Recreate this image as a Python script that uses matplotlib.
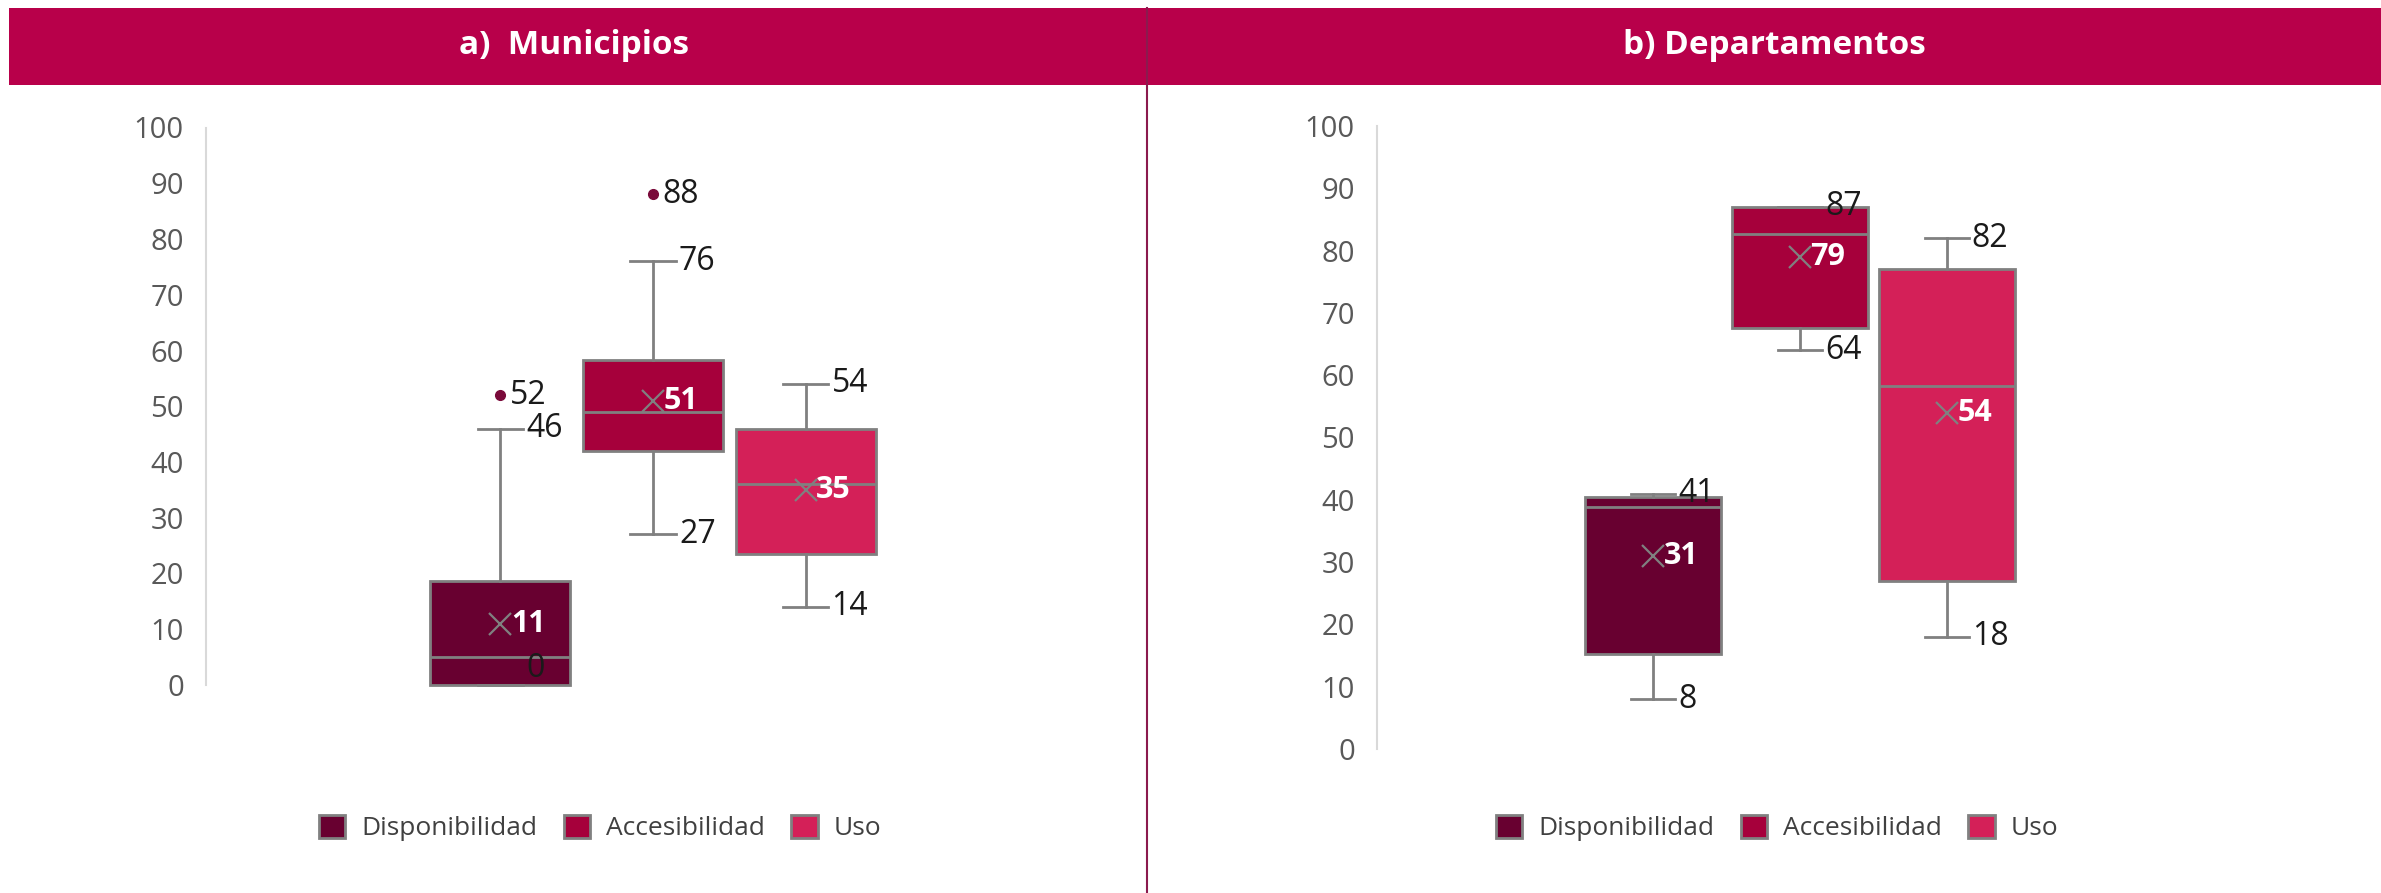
import matplotlib.pyplot as plt
from matplotlib.patches import Patch, Rectangle
from matplotlib.lines import Line2D

# === DATOS ===
series = ["Disponibilidad", "Accesibilidad", "Uso"]
colores = ["#680030", "#A6003B", "#D42058"]

# a) Municipios
mun_q1 = [0, 42, 23.5]
mun_med = [5, 49, 36]
mun_q3 = [18.7, 58.3, 46]
mun_min = [0, 27, 14]
mun_max = [46, 76, 54]
mun_media = [11, 51, 35]
mun_atipicos = [[52], [88], []]

# b) Departamentos
dep_q1 = [15.3, 67.6, 27]
dep_med = [38.8, 82.6, 58.2]
dep_q3 = [40.5, 87, 77]
dep_min = [8, 64, 18]
dep_max = [41, 87, 82]
dep_media = [31, 79, 54]
dep_atipicos = [[], [], []]

plt.rcParams["font.family"] = ["Open Sans", "DejaVu Sans"]

GRIS = "#808080"
FONDO_TITULO = "#B8004A"

fig = plt.figure(figsize=(23.81, 8.93), dpi=100)


def panel(rect, q1, med, q3, lo, hi, media, atip, xlim, ancho, cap):
    ax = fig.add_axes(rect)
    stats = []
    for i in range(3):
        stats.append({"q1": q1[i], "med": med[i], "q3": q3[i], "whislo": lo[i],
                      "whishi": hi[i], "mean": media[i], "fliers": atip[i]})
    pos = [-1, 0, 1]
    bp = ax.bxp(stats, positions=pos, widths=ancho, patch_artist=True, showmeans=True,
                capwidths=cap,
                boxprops=dict(edgecolor=GRIS, linewidth=2),
                medianprops=dict(color=GRIS, linewidth=2),
                whiskerprops=dict(color=GRIS, linewidth=2),
                capprops=dict(color=GRIS, linewidth=2),
                meanprops=dict(marker="x", markeredgecolor=GRIS, markersize=16, markeredgewidth=1.6),
                flierprops=dict(marker="o", markerfacecolor="#7A0A3A", markeredgecolor="#7A0A3A",
                                markersize=7))
    for caja, c in zip(bp["boxes"], colores):
        caja.set_facecolor(c)
        caja.set_clip_on(False)
    for linea in bp["medians"] + bp["caps"] + bp["whiskers"]:
        linea.set_clip_on(False)

    for i, x in enumerate(pos):
        xe = x + cap / 2 + 0.02
        for v in (lo[i], hi[i]):
            ax.text(xe, v, f"{v:g}", ha="left", va="bottom" if v == 0 else "center",
                    fontsize=23, color="#1a1a1a", zorder=5)
        for v in atip[i]:
            ax.text(x + 0.06, v, f"{v:g}", ha="left", va="center",
                    fontsize=23, color="#1a1a1a", zorder=5)
        ax.text(x + 0.07, media[i], f"{media[i]:g}", ha="left", va="center",
                fontsize=22, fontweight="bold", color="white", zorder=5)

    ax.set_ylim(0, 100)
    ax.set_xlim(*xlim)
    ax.set_yticks(range(0, 101, 10))
    ax.set_xticks([])
    ax.tick_params(axis="y", length=0, pad=16, labelsize=21, labelcolor="#595959")
    for s in ["top", "right", "bottom"]:
        ax.spines[s].set_visible(False)
    ax.spines["left"].set_color("#D9D9D9")
    ax.spines["left"].set_linewidth(1.5)
    return ax


panel([206 / 2381, 1 - 685 / 893, 894 / 2381, 557.5 / 893],
      mun_q1, mun_med, mun_q3, mun_min, mun_max, mun_media, mun_atipicos,
      (-2.93, 2.93), 0.918, 0.3)
panel([1377 / 2381, 1 - 749 / 893, 846 / 2381, 623 / 893],
      dep_q1, dep_med, dep_q3, dep_min, dep_max, dep_media, dep_atipicos,
      (-2.88, 2.88), 0.93, 0.3)

# barras de titulo
fig.patches.append(Rectangle((9 / 2381, 1 - 85 / 893), 1 - 9 / 2381, 77 / 893,
                             transform=fig.transFigure, facecolor=FONDO_TITULO,
                             edgecolor="none", zorder=0))
fig.text(574 / 2381, 1 - 46 / 893, "a)  Municipios", ha="center", va="center",
         fontsize=24, fontweight="bold", color="white")
fig.text(1774 / 2381, 1 - 46 / 893, "b) Departamentos", ha="center", va="center",
         fontsize=24, fontweight="bold", color="white")

# separador
fig.add_artist(Line2D([1147 / 2381, 1147 / 2381], [0, 1 - 8 / 893],
                      transform=fig.transFigure, color="#8B1A4E", linewidth=1.5))

# leyendas
handles = [Patch(facecolor=c, edgecolor=GRIS, linewidth=2) for c in colores]
for xc in (600 / 2381, 1777 / 2381):
    fig.legend(handles, series, loc="center", bbox_to_anchor=(xc, 1 - 828 / 893), ncol=3,
               frameon=False, fontsize=19, labelcolor="#404040", handlelength=1.0,
               handleheight=1.0, handletextpad=0.6, columnspacing=1.0)

fig.savefig("out.png", dpi=100)
